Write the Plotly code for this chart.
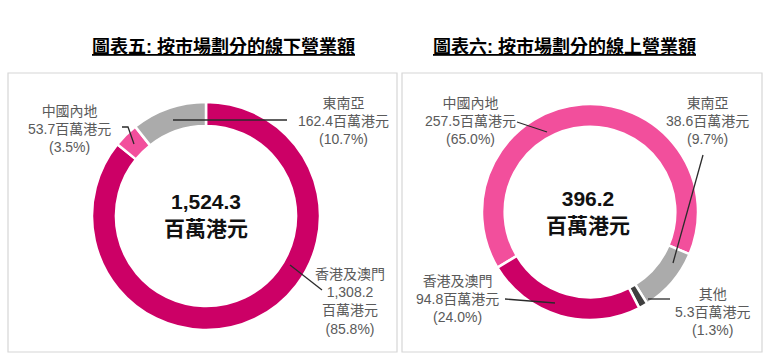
import plotly.graph_objects as go

W, H = 772, 362

# ---- data ----
offline_labels = ["香港及澳門", "中國內地", "東南亞"]
offline_values = [1308.2, 53.7, 162.4]
offline_pct = ["85.8%", "3.5%", "10.7%"]
offline_total = "1,524.3"

online_labels = ["中國內地", "東南亞", "其他", "香港及澳門"]
online_values = [257.5, 38.6, 5.3, 94.8]
online_pct = ["65.0%", "9.7%", "1.3%", "24.0%"]
online_total = "396.2"

unit = "百萬港元"
title_left = "圖表五: 按市場劃分的線下營業額"
title_right = "圖表六: 按市場劃分的線上營業額"

MAGENTA = "#cc0066"
PINK = "#f24f9c"
GRAY = "#ababab"
DARK = "#3f3f3f"
offline_colors = [MAGENTA, PINK, GRAY]
online_colors = [PINK, GRAY, DARK, MAGENTA]

FONT = "Arial, 'Liberation Sans', 'Noto Sans CJK TC', sans-serif"


def px(x):
    return x / W


def py(y):
    return 1 - y / H


fig = go.Figure()

fig.add_trace(go.Pie(
    labels=offline_labels, values=offline_values, hole=0.79, sort=False,
    direction="clockwise", rotation=0, textinfo="none", hoverinfo="label+value",
    marker=dict(colors=offline_colors, line=dict(color="white", width=2.5)),
    domain=dict(x=[px(92), px(320)], y=[py(331), py(101)]), showlegend=False,
))
fig.add_trace(go.Pie(
    labels=online_labels, values=online_values, hole=0.79, sort=False,
    direction="clockwise", rotation=239, textinfo="none", hoverinfo="label+value",
    marker=dict(colors=online_colors, line=dict(color="white", width=2.5)),
    domain=dict(x=[px(482), px(698)], y=[py(320), py(104)]), showlegend=False,
))

shapes = []
# panel boxes
for x0, x1 in [(8, 397), (402, 762)]:
    shapes.append(dict(type="rect", xref="paper", yref="paper",
                       x0=px(x0), x1=px(x1), y0=py(352), y1=py(73),
                       line=dict(color="#d6d6d6", width=1.2), layer="below"))


def seg(pts):
    path = "M " + " L ".join(f"{px(a)},{py(b)}" for a, b in pts)
    shapes.append(dict(type="path", xref="paper", yref="paper", path=path,
                       line=dict(color="#2b2b2b", width=1.3)))


# leader lines
seg([(122, 127), (128, 127), (134, 144)])
seg([(173, 120), (287, 120)])
seg([(290, 265), (322, 290)])
seg([(517, 122), (547, 132)])
seg([(703, 155), (673, 263)])
seg([(505, 299), (555, 303)])
seg([(648, 299), (670, 299)])

ann = []


def txt(x, y, text, size=14, color="#5a5a5a"):
    ann.append(dict(x=px(x), y=py(y), xref="paper", yref="paper", text=text,
                    showarrow=False, xanchor="center", yanchor="middle",
                    font=dict(size=size, color=color, family=FONT), align="center"))


# titles
txt(223, 47, f"<b><u>{title_left}</u></b>", size=18, color="#000000")
txt(564, 47, f"<b><u>{title_right}</u></b>", size=18, color="#000000")

# center totals
txt(206, 215, f"<b>{offline_total}<br>{unit}</b>", size=21, color="#111111")
txt(588, 212, f"<b>{online_total}<br>{unit}</b>", size=21, color="#111111")

# offline labels
txt(69, 129, f"{offline_labels[1]}<br>{offline_values[1]}{unit}<br>({offline_pct[1]})")
txt(343, 121, f"{offline_labels[2]}<br>{offline_values[2]}{unit}<br>({offline_pct[2]})")
txt(350, 301, f"{offline_labels[0]}<br>{offline_values[0]:,.1f}<br>{unit}<br>({offline_pct[0]})")

# online labels
txt(470, 121, f"{online_labels[0]}<br>{online_values[0]}{unit}<br>({online_pct[0]})")
txt(707, 121, f"{online_labels[1]}<br>{online_values[1]}{unit}<br>({online_pct[1]})")
txt(457, 299, f"{online_labels[3]}<br>{online_values[3]}{unit}<br>({online_pct[3]})")
txt(712, 312, f"{online_labels[2]}<br>{online_values[2]}{unit}<br>({online_pct[2]})")

fig.update_layout(
    width=W, height=H, margin=dict(l=0, r=0, t=0, b=0),
    paper_bgcolor="white", plot_bgcolor="white",
    shapes=shapes, annotations=ann, font=dict(family=FONT),
)

fig.write_html("out.html", config={"displayModeBar": False},
               post_script="document.body.style.margin='0px';")
